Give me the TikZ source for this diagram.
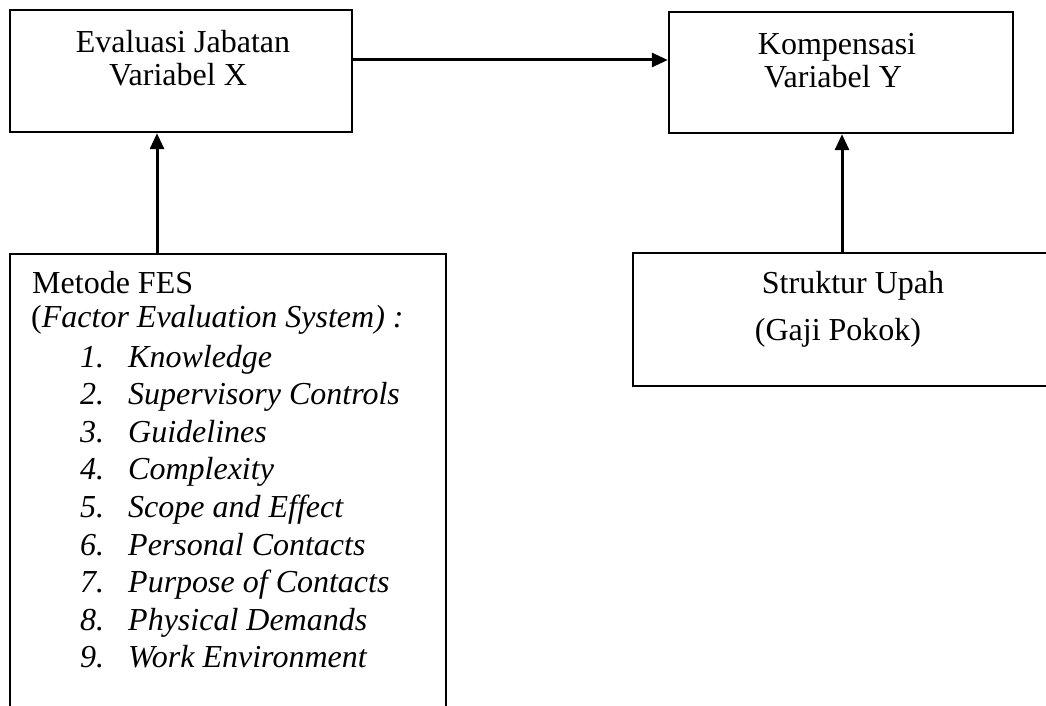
\documentclass[tikz,border=0pt]{standalone}
\usepackage{fontspec}
\setmainfont{Liberation Serif}
\usetikzlibrary{arrows.meta}
\begin{document}
\begin{tikzpicture}[x=1pt,y=-1pt,
  box/.style={draw, line width=2.4pt, inner sep=0pt, rectangle},
  lbl/.style={anchor=base, inner sep=0pt, font=\fontsize{32}{37}\selectfont},
  item/.style={anchor=base west, inner sep=0pt, font=\fontsize{32}{37}\selectfont\itshape},
  arr/.style={line width=3pt, -{Triangle[length=16pt,width=14pt]}}]
\useasboundingbox (0,0) rectangle (1046,706);
\clip (0,0) rectangle (1046,706);

% boxes
\node[box, minimum width=342pt, minimum height=122pt] (evx) at (181,71) {};
\node[box, minimum width=344pt, minimum height=121pt] (komy) at (841,72.5) {};
\node[box, minimum width=436pt, minimum height=470pt] (fes) at (228,489) {};
\node[box, minimum width=427pt, minimum height=133pt] (upah) at (846.5,319.5) {};

% box texts
\node[lbl] (evx1) at (183,53) {Evaluasi Jabatan};
\node[lbl] (evx2) at (178,86) {Variabel X};
\node[lbl] (komy1) at (837,55) {Kompensasi};
\node[lbl] (komy2) at (833,88) {Variabel Y};
\node[lbl] (upah1) at (853,293) {Struktur Upah};
\node[lbl] (upah2) at (838,340) {(Gaji Pokok)};

\node[item, font=\fontsize{32}{37}\selectfont] (fes0) at (32,293) {Metode FES};
\node[item, font=\fontsize{32}{37}\selectfont] (fes00) at (31,327) {(\textit{Factor Evaluation System) :}};
\foreach \n/\t [count=\k from 0] in {1/Knowledge,2/Supervisory Controls,3/Guidelines,
    4/Complexity,5/Scope and Effect,6/Personal Contacts,7/Purpose of Contacts,
    8/Physical Demands,9/Work Environment}{
  \node[item] (num\n) at (80,367+37.6*\k) {\n.};
  \node[item] (itm\n) at (128,367+37.6*\k) {\t};
}

% connectors
\draw[arr] ([yshift=11pt]evx.east) coordinate (h0) -- (h0 -| komy.west);
\draw[arr] ([xshift=-71pt]fes.north) coordinate (v0) -- (v0 |- evx.south);
\draw[arr] ([xshift=-4.5pt]upah.north) coordinate (v1) -- (v1 |- komy.south);
\end{tikzpicture}
\end{document}
